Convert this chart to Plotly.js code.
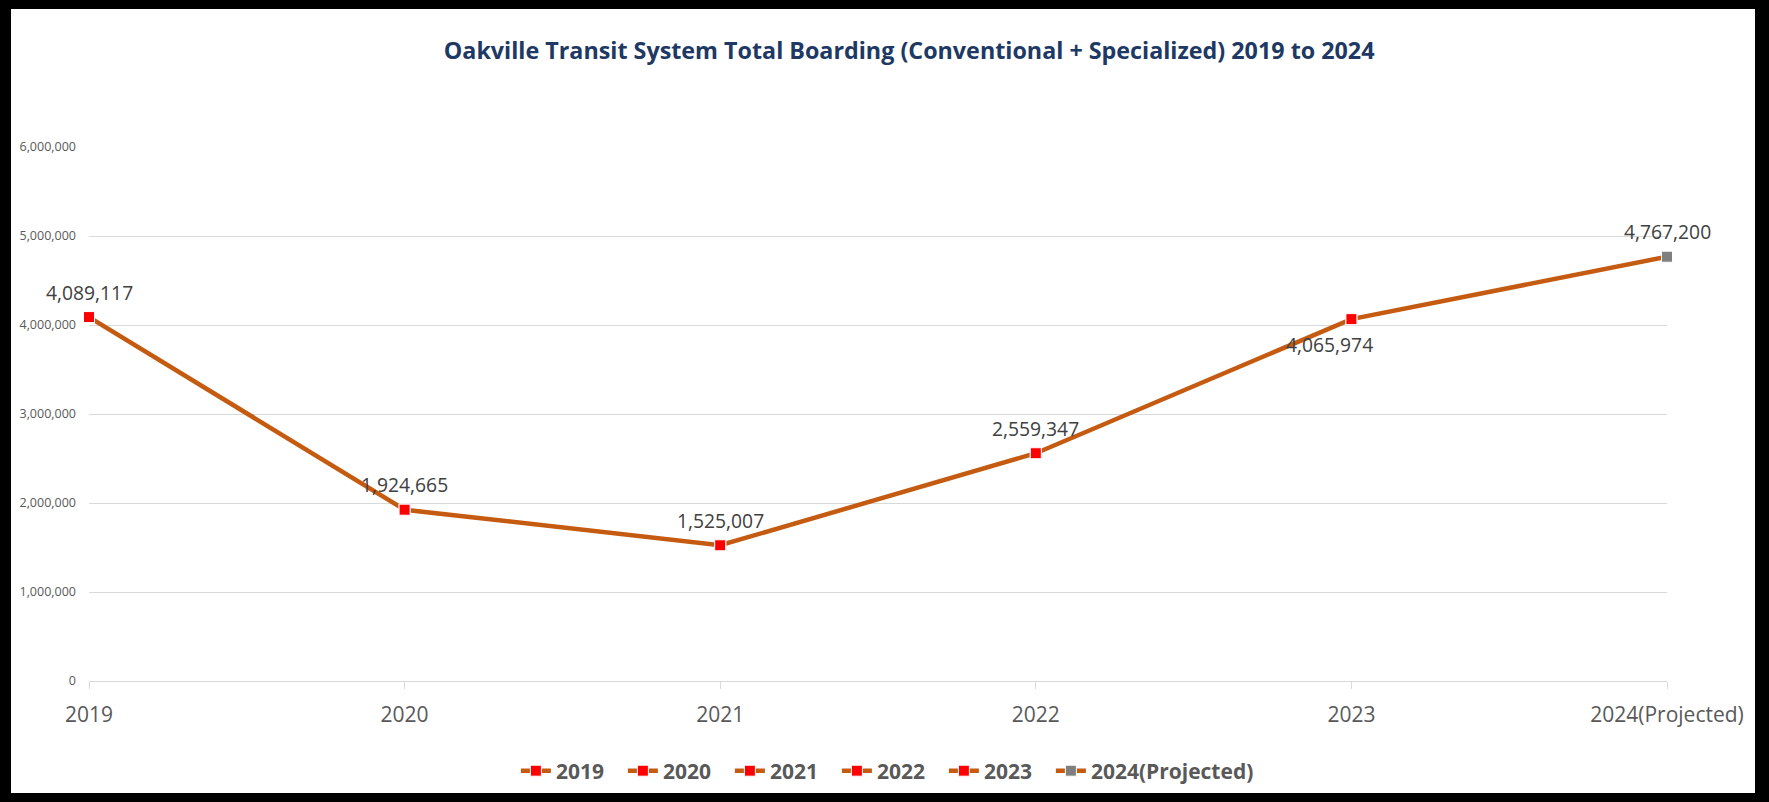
<!DOCTYPE html>
<html>
<head>
<meta charset="utf-8">
<script src="https://cdn.plot.ly/plotly-3.0.1.min.js"></script>
<style>
  html, body { margin: 0; padding: 0; }
  #frame { position: absolute; left: 0; top: 0; width: 1769px; height: 802px; background: #000; }
  #chart { position: absolute; left: 11px; top: 9px; width: 1744px; height: 784px; background: #fff; }
</style>
</head>
<body>
<div id="frame"><div id="chart"></div></div>
<script>
// ---- data ----
const categories = ["2019", "2020", "2021", "2022", "2023", "2024(Projected)"];
const boardings = [4089117, 1924665, 1525007, 2559347, 4065974, 4767200];
const yTickValues = [0, 1000000, 2000000, 3000000, 4000000, 5000000, 6000000];

// ---- styles ----
const lineColor = "#C55A11";
const markerColors = ["#FF0000", "#FF0000", "#FF0000", "#FF0000", "#FF0000", "#7F7F7F"];
const legendWidths = [62, 62, 62, 62, 62, 190];
const labelShiftX = [0, 0, 0, 0, -22, 0];
const labelShiftY = [25, 25, 25, 25, -25, 25];

const traces = [];
traces.push({
  x: categories, y: boardings, type: "scatter", mode: "lines+markers",
  line: { color: lineColor, width: 4.5 },
  marker: { symbol: "square", size: 11, color: markerColors, line: { color: "#FFFFFF", width: 1 } },
  cliponaxis: false, showlegend: false, hoverinfo: "x+y"
});
categories.forEach((c, i) => {
  traces.push({
    x: [c], y: [boardings[i]], type: "scatter", mode: "lines+markers", name: c,
    line: { color: lineColor, width: 4.5 },
    marker: { symbol: "square", size: 11, color: markerColors[i], line: { color: "#FFFFFF", width: 1 } },
    cliponaxis: false, showlegend: true, legendwidth: legendWidths[i]
  });
});

// category axis: annotation x given as the category index
const annotations = categories.map((c, i) => ({
  x: i, y: boardings[i], xref: "x", yref: "y",
  text: boardings[i].toLocaleString("en-US"),
  showarrow: false, xshift: labelShiftX[i], yshift: labelShiftY[i],
  font: { family: "Open Sans", size: 19.3, color: "#404040" }
}));

const layout = {
  width: 1744, height: 784,
  paper_bgcolor: "#FFFFFF", plot_bgcolor: "#FFFFFF",
  margin: { l: 78, r: 88, t: 138, b: 112 },
  title: {
    text: "<b>Oakville Transit System Total Boarding (Conventional + Specialized) 2019 to 2024</b>",
    font: { family: "Open Sans", size: 23.3, color: "#203864" },
    xref: "container", yref: "container", x: 0.515, xanchor: "center", y: 0.9464, yanchor: "middle"
  },
  xaxis: {
    type: "category", range: [0, 5], showgrid: false,
    showline: true, linecolor: "#D9D9D9", linewidth: 1,
    ticks: "outside", ticklen: 7, tickcolor: "#D9D9D9",
    tickfont: { family: "Open Sans", size: 21, color: "#595959" },
    ticklabelstandoff: 8, fixedrange: true
  },
  yaxis: {
    range: [0, 6000000], tickvals: yTickValues, tickformat: ",d",
    showgrid: true, gridcolor: "#D9D9D9", gridwidth: 1,
    zeroline: false, showline: false, ticks: "",
    tickfont: { family: "Open Sans", size: 12.5, color: "#595959" },
    ticklabelstandoff: 12, fixedrange: true
  },
  legend: {
    orientation: "h", xref: "container", yref: "container",
    x: 0.2895, xanchor: "left", y: 0.028, yanchor: "middle",
    entrywidthmode: "pixels",
    font: { family: "Open Sans", size: 21, color: "#595959", weight: "bold" },
    bgcolor: "rgba(0,0,0,0)"
  },
  annotations: annotations,
  showlegend: true
};

Plotly.newPlot("chart", traces, layout, { displayModeBar: false, staticPlot: true });
</script>
</body>
</html>
